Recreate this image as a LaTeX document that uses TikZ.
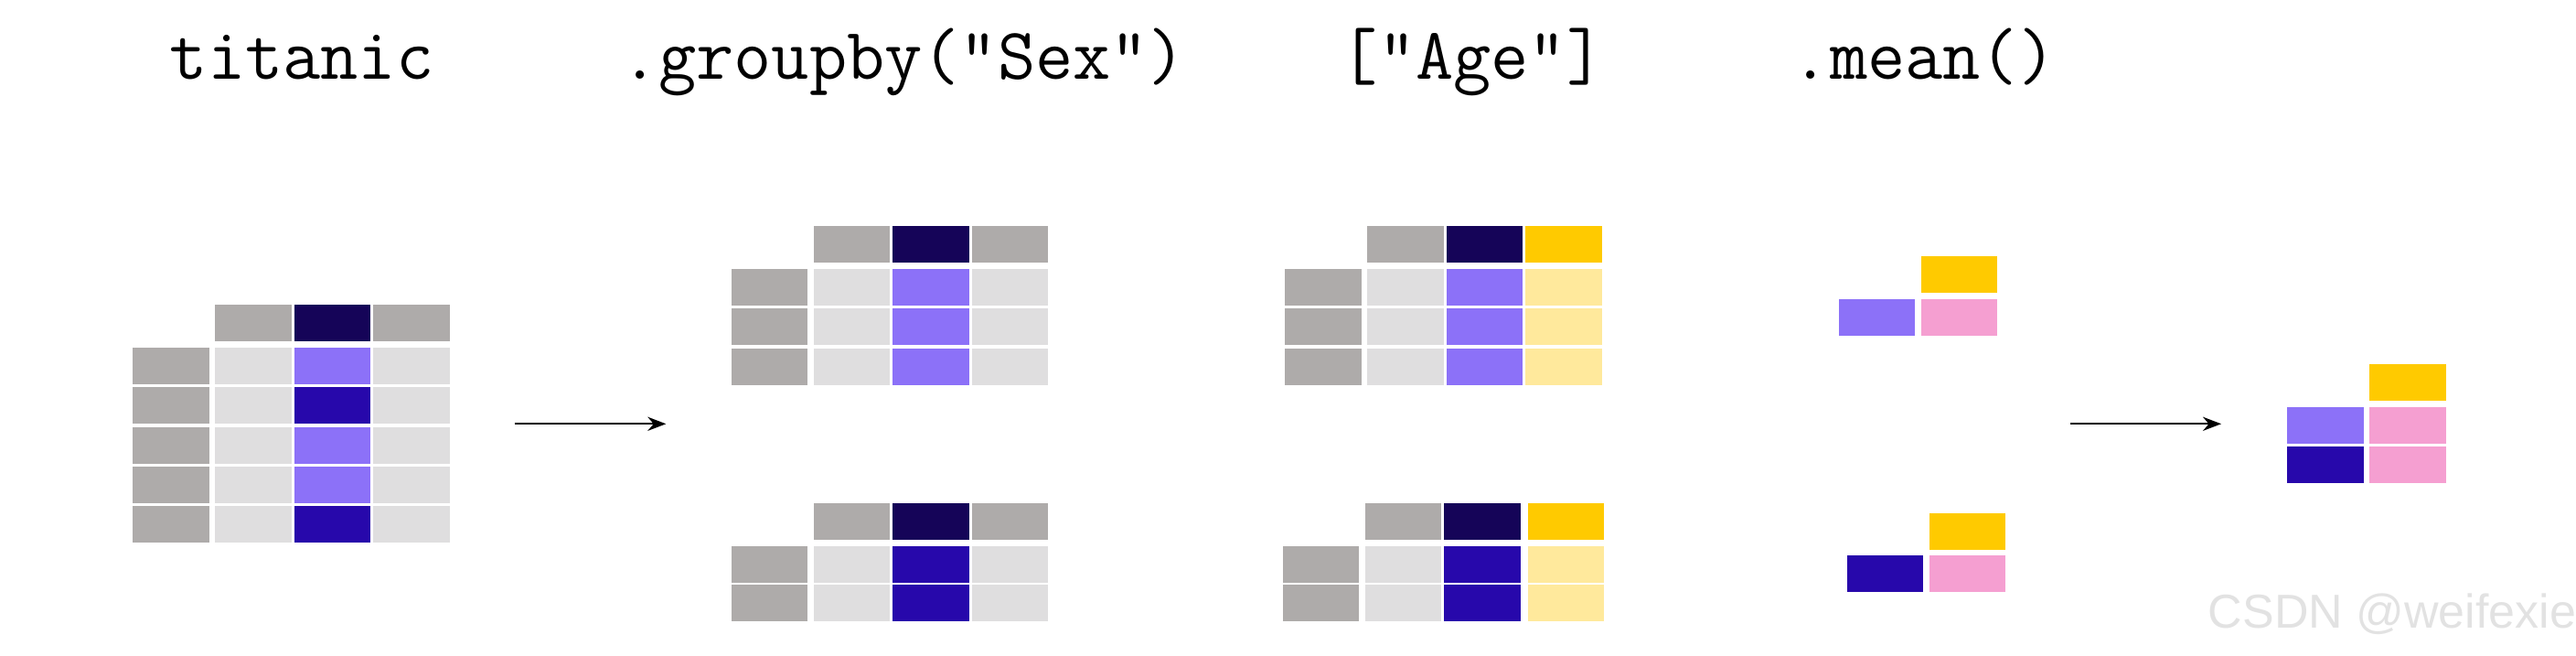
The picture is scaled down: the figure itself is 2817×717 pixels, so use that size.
\documentclass[tikz,border=0pt]{standalone}
\usepackage{fontspec}
\newfontfamily\codefont{Latin Modern Mono}
\newfontfamily\wmfont{Liberation Sans}
\usetikzlibrary{arrows.meta}
\definecolor{idxgray}{HTML}{AEABAA}
\definecolor{cellgray}{HTML}{DFDEDF}
\definecolor{navy}{HTML}{150458}
\definecolor{purp}{HTML}{8C71F8}
\definecolor{darkb}{HTML}{2708AB}
\definecolor{yel}{HTML}{FFCA00}
\definecolor{lyel}{HTML}{FFE99C}
\definecolor{pink}{HTML}{F59FD1}
\definecolor{wm}{HTML}{E2E2E2}
\begin{document}
\begin{tikzpicture}[x=0.25pt,y=-0.25pt,
  cell/.style={anchor=north west, inner sep=0pt, outer sep=0pt, minimum width=20.8pt, minimum height=10pt, draw=none},
  title/.style={anchor=base, inner sep=0pt, font=\codefont\fontsize{20}{24}\selectfont},
  arrowline/.style={line width=0.5pt, -{Stealth[length=5pt,width=3.8pt]}}]
\useasboundingbox (0,0) rectangle (2817,717);
% titles
\node[title] (title1) at (330,86) {titanic};
\node[title] (title2) at (988,86) {.groupby("Sex")};
\node[title] (title3) at (1610,86) {["Age"]};
\node[title] (title4) at (2104,86) {.mean()};
% titanic table
\node[cell,fill=idxgray] (t-h1) at (235.3,333.3) {};
\node[cell,fill=navy] (t-h2) at (321.7,333.3) {};
\node[cell,fill=idxgray] (t-h3) at (408.3,333.3) {};
\foreach \r/\y/\c in {1/380/purp,2/423.3/darkb,3/466.7/purp,4/510/purp,5/553.3/darkb}{
  \node[cell,fill=idxgray] (t-\r-0) at (145.3,\y) {};
  \node[cell,fill=cellgray] (t-\r-1) at (235.3,\y) {};
  \node[cell,fill=\c] (t-\r-2) at (321.7,\y) {};
  \node[cell,fill=cellgray] (t-\r-3) at (408.3,\y) {};
}
% groupby top
\node[cell,fill=idxgray] (g1-h1) at (890,247.3) {};
\node[cell,fill=navy] (g1-h2) at (976.3,247.3) {};
\node[cell,fill=idxgray] (g1-h3) at (1062.7,247.3) {};
\foreach \r/\y in {1/294.3,2/337.3,3/380.7}{
  \node[cell,fill=idxgray] (g1-\r-0) at (800,\y) {};
  \node[cell,fill=cellgray] (g1-\r-1) at (890,\y) {};
  \node[cell,fill=purp] (g1-\r-2) at (976.3,\y) {};
  \node[cell,fill=cellgray] (g1-\r-3) at (1062.7,\y) {};
}
% groupby bottom
\node[cell,fill=idxgray] (g2-h1) at (890,550) {};
\node[cell,fill=navy] (g2-h2) at (976.3,550) {};
\node[cell,fill=idxgray] (g2-h3) at (1062.7,550) {};
\foreach \r/\y in {1/596.7,2/639.3}{
  \node[cell,fill=idxgray] (g2-\r-0) at (800,\y) {};
  \node[cell,fill=cellgray] (g2-\r-1) at (890,\y) {};
  \node[cell,fill=darkb] (g2-\r-2) at (976.3,\y) {};
  \node[cell,fill=cellgray] (g2-\r-3) at (1062.7,\y) {};
}
% Age top
\node[cell,fill=idxgray] (a1-h1) at (1495.3,247.3) {};
\node[cell,fill=navy] (a1-h2) at (1581.7,247.3) {};
\node[cell,fill=yel] (a1-h3) at (1668.3,247.3) {};
\foreach \r/\y in {1/294.3,2/337.3,3/380.7}{
  \node[cell,fill=idxgray] (a1-\r-0) at (1405.3,\y) {};
  \node[cell,fill=cellgray] (a1-\r-1) at (1495.3,\y) {};
  \node[cell,fill=purp] (a1-\r-2) at (1581.7,\y) {};
  \node[cell,fill=lyel] (a1-\r-3) at (1668.3,\y) {};
}
% Age bottom
\node[cell,fill=idxgray] (a2-h1) at (1492.7,550) {};
\node[cell,fill=navy] (a2-h2) at (1579.3,550) {};
\node[cell,fill=yel] (a2-h3) at (1671,550) {};
\foreach \r/\y in {1/596.7,2/639.3}{
  \node[cell,fill=idxgray] (a2-\r-0) at (1402.7,\y) {};
  \node[cell,fill=cellgray] (a2-\r-1) at (1492.7,\y) {};
  \node[cell,fill=darkb] (a2-\r-2) at (1579.3,\y) {};
  \node[cell,fill=lyel] (a2-\r-3) at (1671,\y) {};
}
% mean top
\node[cell,fill=yel] (m1-h) at (2101,280) {};
\node[cell,fill=purp] (m1-i) at (2011,326.7) {};
\node[cell,fill=pink] (m1-v) at (2101,326.7) {};
% mean bottom
\node[cell,fill=yel] (m2-h) at (2110,560.7) {};
\node[cell,fill=darkb] (m2-i) at (2020,607.3) {};
\node[cell,fill=pink] (m2-v) at (2110,607.3) {};
% result
\node[cell,fill=yel] (r-h) at (2591.3,398.3) {};
\node[cell,fill=purp] (r-1-i) at (2501.3,445.3) {};
\node[cell,fill=pink] (r-1-v) at (2591.3,445.3) {};
\node[cell,fill=darkb] (r-2-i) at (2501.3,488.3) {};
\node[cell,fill=pink] (r-2-v) at (2591.3,488.3) {};
% arrows
\coordinate (a1s) at (562.7,463.3);
\coordinate (a1e) at (728.3,463.3);
\coordinate (a2s) at (2264,463.3);
\coordinate (a2e) at (2429,463.3);
\draw[arrowline] (a1s) -- (a1e);
\draw[arrowline] (a2s) -- (a2e);
% watermark
\node[anchor=base west, inner sep=0pt, text=wm, font=\wmfont\fontsize{13}{15}\selectfont] (wmk) at (2414,686) {CSDN @weifexie};
\end{tikzpicture}
\end{document}
